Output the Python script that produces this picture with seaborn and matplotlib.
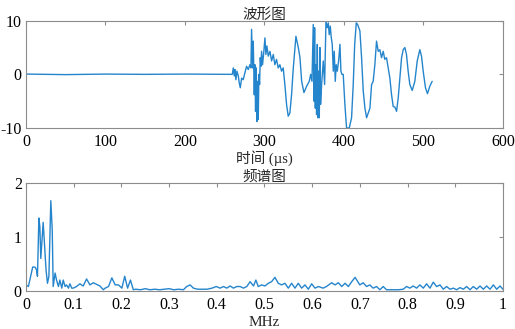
import matplotlib
matplotlib.use("Agg")
import matplotlib.pyplot as plt
import seaborn as sns
import pandas as pd

# waveform (time in us, amplitude)
wave_t = [0, 50, 100, 150, 200, 250.3, 259.5,
          260.8, 262.0, 262.9, 264.1, 265.4, 267.1, 268.3, 269.6, 271.3, 273.3,
          275.4, 277.5, 279.6, 281.7, 283.0, 283.8, 285.1, 285.9, 287.2, 288.0,
          288.8, 289.7, 290.5, 291.4, 292.2, 293.0, 293.9, 294.7, 295.6, 296.4,
          297.6, 298.9, 300.6, 301.8, 303.1, 304.8, 306.9, 309.0, 311.1, 313.1,
          315.2, 317.3, 319.4, 321.5, 323.6, 325.7, 327.8, 329.9, 332.0, 334.1,
          336.3, 339.6, 342.6, 344.7, 346.8, 349.7, 353.1, 356.4, 358.1, 359.8,
          361.4, 362.3, 363.1, 364.0, 364.8, 365.6, 366.5, 367.3, 368.1, 369.0,
          369.8, 370.6, 371.9, 374.0, 375.7, 377.4, 379.0, 380.3, 381.5, 382.8,
          384.1, 385.3, 386.6, 387.8, 389.1, 390.3, 391.6, 393.3, 395.0, 396.2,
          397.5, 399.1, 401.2, 403.3, 406.7, 409.6, 411.7, 413.5, 415.5, 417.2,
          420.1, 422.2, 424.3, 426.4, 428.5, 430.6, 432.7, 434.8, 436.8, 438.9,
          441.0, 443.1, 445.2, 447.3, 449.4, 451.4, 453.6, 455.7, 457.8, 459.9,
          462.0, 464.1, 466.2, 468.3, 470.4, 472.5, 474.6, 476.7, 478.7, 480.8,
          482.9, 485.9, 489.2, 492.2, 495.5, 497.6, 499.7, 502.6, 505.1, 508.1,
          511.0]
wave_v = [0.05, -0.05, 0.05, 0.0, 0.05, 0.0, 0.0,
          1.2, -0.3, 0.9, -1.0, 0.6, -0.3, -1.6, -2.5, -0.7, -1.0,
          0.3, 1.5, 0.9, 1.8, 1.2, 8.4, 1.2, 6.2, -3.8, 1.8,
          -6.9, 1.2, -8.8, -1.3, -8.4, 0.0, -1.9, 3.1, 1.5, 4.3,
          1.8, 3.7, 6.8, 3.7, 5.3, 3.4, 4.3, 2.5, 3.7, 1.8,
          2.8, 1.2, 1.8, 0.6, 1.2, -1.9, -5.6, -7.8, -7.2, -3.8,
          1.2, 7.1, 5.0, 3.1, -1.3, -3.4, -2.2, -1.3, 0.0, -1.3,
          9.3, -5.0, 8.7, -6.3, 1.8, -7.5, 5.6, -8.1, 0.6, -8.1,
          5.0, -5.6, -1.9, 2.5, -1.9, 9.9, 8.7, 9.6, 7.4, 9.0,
          6.8, 5.6, 0.6, 4.3, -1.3, 1.8, 0.6, 2.5, 5.6, 0.6,
          0.0, 0.0, -5.6, -10.0, -10.0, -8.1, -1.9, 5.5, 9.6, 9.3,
          8.1, 3.1, -3.1, -6.3, -8.1, -7.2, -6.3, -1.9, -1.3, 1.8,
          6.2, 4.3, 4.6, 3.1, 4.3, 2.8, 3.1, 1.2, -0.7, -3.8,
          -6.0, -6.1, -6.9, -4.4, -0.7, 3.1, 4.6, 5.0, 3.7, 0.6,
          -1.9, -3.0, -1.3, 2.5, 4.6, 3.4, 0.6, -2.5, -3.6, -2.2,
          -1.3]

# spectrum (frequency in MHz, amplitude)
spec_f = [0.0, 0.005, 0.008, 0.012, 0.014, 0.019, 0.022, 0.024, 0.027, 0.029,
          0.031, 0.034, 0.036, 0.039, 0.042, 0.045, 0.048, 0.052, 0.055, 0.057,
          0.061, 0.064, 0.068, 0.071, 0.075, 0.078, 0.082, 0.085, 0.089, 0.092,
          0.096, 0.099, 0.106, 0.113, 0.120, 0.127, 0.134, 0.141, 0.148, 0.155,
          0.162, 0.166, 0.173, 0.180, 0.187, 0.194, 0.201, 0.207, 0.213, 0.219,
          0.225, 0.23, 0.24, 0.25, 0.26, 0.27, 0.28, 0.29, 0.30, 0.31,
          0.32, 0.33, 0.337, 0.344, 0.351, 0.36, 0.37, 0.38, 0.39, 0.399,
          0.407, 0.414, 0.421, 0.428, 0.435, 0.442, 0.449, 0.456, 0.463, 0.470,
          0.477, 0.482, 0.487, 0.494, 0.501, 0.508, 0.515, 0.522, 0.529, 0.536,
          0.543, 0.550, 0.557, 0.564, 0.571, 0.578, 0.585, 0.592, 0.599, 0.606,
          0.613, 0.623, 0.630, 0.641, 0.648, 0.655, 0.662, 0.669, 0.676, 0.683,
          0.690, 0.700, 0.707, 0.714, 0.721, 0.728, 0.735, 0.742, 0.749, 0.756,
          0.767, 0.781, 0.791, 0.798, 0.805, 0.812, 0.819, 0.826, 0.833, 0.840,
          0.847, 0.854, 0.861, 0.868, 0.875, 0.882, 0.889, 0.896, 0.903, 0.910,
          0.917, 0.924, 0.931, 0.938, 0.945, 0.952, 0.959, 0.966, 0.973, 0.980,
          0.987, 0.994, 1.0]
spec_a = [0.11, 0.08, 0.20, 0.36, 0.44, 0.44, 0.39, 0.27, 1.35, 1.19,
          0.60, 1.00, 1.27, 0.82, 0.39, 0.14, 0.27, 1.67, 1.13, 0.08,
          0.33, 0.20, 0.08, 0.20, 0.05, 0.20, 0.08, 0.11, 0.05, 0.13,
          0.05, 0.05, 0.08, 0.13, 0.09, 0.22, 0.11, 0.15, 0.12, 0.09,
          0.02, 0.05, 0.08, 0.24, 0.11, 0.11, 0.05, 0.27, 0.05, 0.20,
          0.02, 0.03, 0.02, 0.04, 0.02, 0.03, 0.02, 0.03, 0.04, 0.02,
          0.03, 0.02, 0.08, 0.11, 0.05, 0.03, 0.03, 0.03, 0.05, 0.08,
          0.05, 0.08, 0.05, 0.09, 0.05, 0.08, 0.08, 0.05, 0.08, 0.17,
          0.09, 0.20, 0.08, 0.11, 0.09, 0.14, 0.17, 0.25, 0.14, 0.11,
          0.14, 0.05, 0.14, 0.05, 0.14, 0.05, 0.11, 0.03, 0.13, 0.05,
          0.08, 0.05, 0.08, 0.15, 0.11, 0.15, 0.08, 0.14, 0.08, 0.17,
          0.25, 0.11, 0.15, 0.08, 0.11, 0.05, 0.08, 0.02, 0.08, 0.02,
          0.02, 0.02, 0.03, 0.08, 0.05, 0.09, 0.05, 0.11, 0.05, 0.13,
          0.05, 0.16, 0.08, 0.11, 0.03, 0.08, 0.03, 0.05, 0.02, 0.06,
          0.03, 0.08, 0.02, 0.08, 0.03, 0.09, 0.03, 0.09, 0.03, 0.11,
          0.03, 0.09, 0.03]

sns.set_theme(style="white")
plt.rcParams['font.family'] = ['Liberation Serif', 'Noto Sans CJK SC']
plt.rcParams['axes.unicode_minus'] = False

line_color = '#2585cc'
spine_color = '#8c8c8c'

fig = plt.figure(figsize=(5.15, 3.29), dpi=100)
ax1 = fig.add_axes([0.0505, 0.611, 0.926, 0.326])
ax2 = fig.add_axes([0.0505, 0.116, 0.926, 0.328])

wave_df = pd.DataFrame({'t': wave_t, 'v': wave_v})
spec_df = pd.DataFrame({'f': spec_f, 'a': spec_a})

sns.lineplot(data=wave_df, x='t', y='v', ax=ax1, color=line_color, lw=1.0,
             estimator=None, sort=False)
sns.lineplot(data=spec_df, x='f', y='a', ax=ax2, color=line_color, lw=1.0,
             estimator=None, sort=False)

ax1.set_xlim(0, 600)
ax1.set_ylim(-10, 10)
ax1.set_xticks([0, 100, 200, 300, 400, 500, 600])
ax1.set_yticks([-10, 0, 10])
ax1.set_title('波形图', fontsize=10.5, pad=1.5)
ax1.set_xlabel('时间 (µs)', fontsize=10.5, labelpad=0)
ax1.set_ylabel('')

ax2.set_xlim(0, 1)
ax2.set_ylim(0, 2)
ticks = [0, 0.1, 0.2, 0.3, 0.4, 0.5, 0.6, 0.7, 0.8, 0.9, 1]
ax2.set_xticks(ticks)
ax2.set_xticklabels(['0', '0.1', '0.2', '0.3', '0.4', '0.5', '0.6', '0.7', '0.8', '0.9', '1'])
ax2.set_yticks([0, 1, 2])
ax2.set_title('频谱图', fontsize=10.5, pad=1.5)
ax2.set_xlabel('MHz', fontsize=11, labelpad=2)
ax2.set_ylabel('')

for ax in (ax1, ax2):
    for s in ax.spines.values():
        s.set_color(spine_color)
        s.set_linewidth(0.8)
    ax.tick_params(direction='in', length=3, width=0.8, color=spine_color,
                   top=True, right=True, labelsize=11.5, labelcolor='black')
    ax.tick_params(axis='x', pad=4.5)
    ax.tick_params(axis='y', pad=3)
    ax.grid(False)

fig.savefig('out.png', dpi=100)
